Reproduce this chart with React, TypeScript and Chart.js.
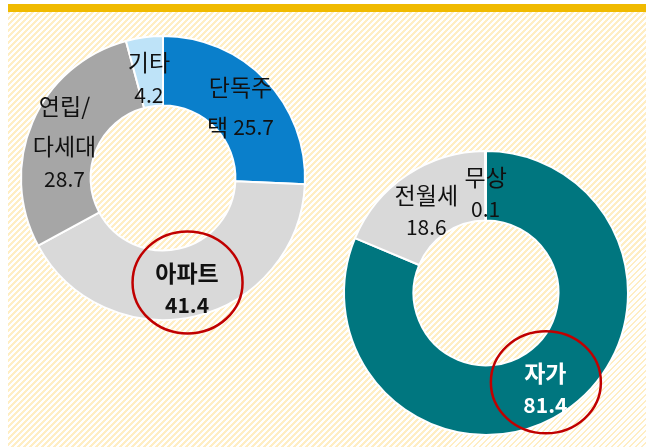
import React, { useEffect, useRef } from 'react';
import { Chart, registerables } from 'chart.js';

Chart.register(...registerables);

// ---- Data ----
const housingCategories = ['단독주택', '아파트', '연립/다세대', '기타'];
const housingValues = [25.7, 41.4, 28.7, 4.2];
const housingLabelLines = [['단독주', '택 '], ['아파트', ''], ['연립/', '다세대', ''], ['기타', '']];
const housingHighlight = 1;

const tenureCategories = ['자가', '전월세', '무상'];
const tenureValues = [81.4, 18.6, 0.1];
const tenureLabelLines = [['자가', ''], ['전월세', ''], ['무상', '']];
const tenureHighlight = 0;

// ---- Styles ----
const housingColors = ['#0A7FCB', '#D9D9D9', '#A6A6A6', '#BEE3F8'];
const housingTextColors = ['#111', '#111', '#111', '#111'];
const tenureColors = ['#00767F', '#D9D9D9', '#D9D9D9'];
const tenureTextColors = ['#FFFFFF', '#111', '#111'];

const FONT = '"Noto Sans CJK KR", "Noto Sans", sans-serif';
const HANGUL_SIZE = 23;
const DIGIT_SIZE = 21;

function isDigitChar(c: string) {
  return /[0-9.]/.test(c);
}

function splitRuns(text: string) {
  const runs: { t: string; d: boolean }[] = [];
  for (const c of text) {
    const d = isDigitChar(c) || (c === ' ' && false);
    const last = runs[runs.length - 1];
    if (last && last.d === d) last.t += c;
    else runs.push({ t: c, d });
  }
  return runs;
}

const labelPlugin = {
  id: 'sliceLabels',
  afterDatasetsDraw(chart: any, _args: any, opts: any) {
    const ctx = chart.ctx as CanvasRenderingContext2D;
    const meta = chart.getDatasetMeta(0);
    const values = chart.data.datasets[0].data as number[];
    ctx.save();
    ctx.textAlign = 'left';
    ctx.textBaseline = 'middle';
    meta.data.forEach((arc: any, i: number) => {
      const p = arc.tooltipPosition(false);
      const raw: string[] = opts.lines[i];
      const lines = raw.map((l, j) => (j === raw.length - 1 ? l + values[i].toFixed(1) : l));
      const bold = i === opts.highlight;
      const w = bold ? 'bold ' : '';
      const fontH = `${w}${HANGUL_SIZE}px ${FONT}`;
      const fontD = `${w}${DIGIT_SIZE}px ${FONT}`;
      const heights = lines.map((ln) => (/[^0-9. ]/.test(ln) ? 40 : 24));
      const total = heights.reduce((a, b) => a + b, 0);
      let y = p.y + 3 - total / 2;
      ctx.fillStyle = opts.textColors[i];
      lines.forEach((ln, j) => {
        const runs = splitRuns(ln);
        let width = 0;
        runs.forEach((r) => {
          ctx.font = r.d ? fontD : fontH;
          width += ctx.measureText(r.t).width;
        });
        let x = p.x - width / 2;
        const cy = y + heights[j] / 2;
        runs.forEach((r) => {
          ctx.font = r.d ? fontD : fontH;
          ctx.fillText(r.t, x, cy);
          x += ctx.measureText(r.t).width;
        });
        y += heights[j];
      });
      if (bold) {
        ctx.beginPath();
        ctx.ellipse(p.x + 0.5, p.y, 55, 51, 0, 0, Math.PI * 2);
        ctx.strokeStyle = '#C00000';
        ctx.lineWidth = 2.5;
        ctx.stroke();
      }
    });
    ctx.restore();
  },
};

function Doughnut(props: {
  left: number; top: number; size: number;
  labels: string[]; values: number[]; colors: string[];
  lines: string[][]; textColors: string[]; highlight: number;
}) {
  const ref = useRef<HTMLCanvasElement | null>(null);
  useEffect(() => {
    if (!ref.current) return;
    const chart = new Chart(ref.current, {
      type: 'doughnut',
      data: {
        labels: props.labels,
        datasets: [{
          data: props.values,
          backgroundColor: props.colors,
          borderColor: '#FFFFFF',
          borderWidth: 2,
        }],
      },
      options: {
        animation: false,
        responsive: false,
        devicePixelRatio: 1,
        cutout: '51%',
        layout: { padding: 20 },
        events: [],
        plugins: {
          legend: { display: false },
          tooltip: { enabled: false },
          title: { display: false },
          // @ts-ignore
          sliceLabels: { lines: props.lines, textColors: props.textColors, highlight: props.highlight },
        },
      },
      plugins: [labelPlugin as any],
    });
    return () => chart.destroy();
  }, []);
  return (
    <canvas
      ref={ref}
      width={props.size}
      height={props.size}
      style={{ position: 'absolute', left: props.left, top: props.top, width: props.size, height: props.size }}
    />
  );
}

export default function App() {
  return (
    <div style={{ position: 'fixed', left: 0, top: 0, width: 646, height: 447, background: '#FFFFFF', overflow: 'hidden' }}>
      <div style={{ position: 'absolute', left: 8, top: 4, width: 638, height: 8, background: '#F0BA00' }} />
      <div
        style={{
          position: 'absolute', left: 8, top: 12, right: 0, bottom: 0,
          background: 'repeating-linear-gradient(135deg, #FFEEC4 0px, #FFEEC4 1.8px, #FFFFFF 1.8px, #FFFFFF 4.24px)',
        }}
      />
      <Doughnut
        left={0} top={14.5} size={326}
        labels={housingCategories} values={housingValues} colors={housingColors}
        lines={housingLabelLines} textColors={housingTextColors} highlight={housingHighlight}
      />
      <Doughnut
        left={323} top={130} size={326}
        labels={tenureCategories} values={tenureValues} colors={tenureColors}
        lines={tenureLabelLines} textColors={tenureTextColors} highlight={tenureHighlight}
      />
    </div>
  );
}
